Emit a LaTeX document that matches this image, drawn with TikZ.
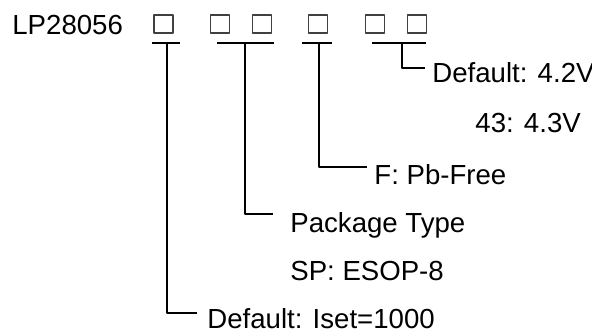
\documentclass[tikz,border=0pt]{standalone}
\usepackage{fontspec}
\setmainfont{Liberation Sans}
\usetikzlibrary{positioning}

\begin{document}
\begin{tikzpicture}[x=0.5pt,y=-0.5pt,line join=bevel,
  font=\fontsize{13.8}{16}\selectfont,
  slot/.style={draw=black!75,line width=0.6pt,minimum width=9.5pt,minimum height=9pt,inner sep=0pt},
  lbl/.style={anchor=base west,inner sep=0pt},
  lead/.style={black,line width=1pt}]
\useasboundingbox (0,0) rectangle (592,331);
%%
\node (part) at (12,35) [lbl] {LP28056};
  \node (box_1) at (163.5,24) [slot] {};
  \node (box_2) at (220,24) [slot] {};
  \node (box_3) at (262,24) [slot] {};
  \node (box_4) at (318,24) [slot] {};
  \node (box_5) at (375,24) [slot] {};
  \node (box_6) at (417,24) [slot] {};
  \node (opt_volt) at (432,83) [lbl] {Default: 4.2V};
  \node (opt_43) at (475,133) [lbl] {43: 4.3V};
  \node (opt_free) at (374,184) [lbl] {F: Pb-Free};
  \node (opt_pkg) at (290,232) [lbl] {Package Type};
  \node (opt_sp) at (290,280) [lbl] {SP: ESOP-8};
  \node (opt_iset) at (207,328) [lbl] {Default: Iset=1000};
  \coordinate (bar_1a) at (152,43);
  \coordinate (bar_1b) at (180,43);
  \coordinate (tap_1) at (167,43);
  \coordinate (end_1) at (197,313);
  \coordinate (bar_2a) at (217,43);
  \coordinate (bar_2b) at (274,43);
  \coordinate (tap_2) at (245,43);
  \coordinate (end_2) at (273,214);
  \coordinate (bar_3a) at (302,43);
  \coordinate (bar_3b) at (332,43);
  \coordinate (tap_3) at (319,43);
  \coordinate (end_3) at (367,167);
  \coordinate (bar_4a) at (372,43);
  \coordinate (bar_4b) at (426,43);
  \coordinate (tap_4) at (402,43);
  \coordinate (end_4) at (425,68);
  \draw [lead] (bar_1a) -- (bar_1b);
  \draw [lead] (bar_2a) -- (bar_2b);
  \draw [lead] (bar_3a) -- (bar_3b);
  \draw [lead] (bar_4a) -- (bar_4b);
  \draw [lead] (tap_1) |- (end_1);
  \draw [lead] (tap_2) |- (end_2);
  \draw [lead] (tap_3) |- (end_3);
  \draw [lead] (tap_4) |- (end_4);
%
\end{tikzpicture}
\end{document}
